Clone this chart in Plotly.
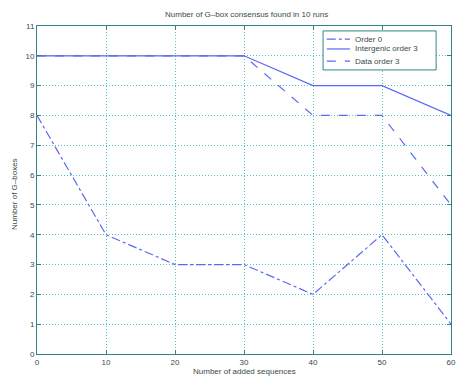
import plotly.graph_objects as go

added = [0, 10, 20, 30, 40, 50, 60]
order0 = [8, 4, 3, 3, 2, 4, 1]
intergenic3 = [10, 10, 10, 10, 9, 9, 8]
data3 = [10, 10, 10, 10, 8, 8, 5]
series_names = ["Order 0", "Intergenic order 3", "Data order 3"]
x_ticks = [0, 10, 20, 30, 40, 50, 60]
y_ticks = list(range(0, 12))

line_col = "#5a68f2"
axis_col = "#2f8585"
grid_col = "#4cc4c4"
text_col = "#3a4a4a"
dashes = ["dashdot", "solid", "dash"]

fig = go.Figure()
for name, vals, d in zip(series_names, [order0, intergenic3, data3], dashes):
    fig.add_trace(go.Scatter(x=added, y=vals, mode="lines", name=name,
                             line=dict(color=line_col, width=1.2, dash=d)))

# compact MATLAB-style legend drawn in plot-area (paper) coordinates
fig.add_shape(type="rect", xref="paper", yref="paper", x0=0.691, x1=0.964, y0=0.866, y1=0.985,
              line=dict(color=axis_col, width=1), fillcolor="white", layer="above")
leg_y = [0.960, 0.930, 0.893]
for name, d, yy in zip(series_names, dashes, leg_y):
    fig.add_shape(type="line", xref="paper", yref="paper", x0=0.700, x1=0.756, y0=yy, y1=yy,
                  line=dict(color=line_col, width=1.2, dash=d), layer="above")
    fig.add_annotation(text=name, xref="paper", yref="paper", x=0.763, y=yy,
                       xanchor="left", yanchor="middle", showarrow=False,
                       font=dict(size=8, color=text_col))

fig.add_annotation(text="Number of G\u2013box consensus found in 10 runs", xref="paper", yref="paper",
                   x=0.507, y=1.034, xanchor="center", yanchor="middle", showarrow=False,
                   font=dict(size=8, color=text_col))
fig.add_annotation(text="Number of added sequences", xref="paper", yref="paper",
                   x=0.5, y=-0.052, xanchor="center", yanchor="middle", showarrow=False,
                   font=dict(size=8, color=text_col))
fig.add_annotation(text="Number of G\u2013boxes", xref="paper", yref="paper",
                   x=-0.053, y=0.488, xanchor="center", yanchor="middle", showarrow=False,
                   textangle=-90, font=dict(size=8, color=text_col))

axis_common = dict(showgrid=True, gridcolor=grid_col, griddash="1px,2px", gridwidth=1,
                   showline=True, linecolor=axis_col, linewidth=1, mirror="allticks",
                   ticks="inside", ticklen=4, tickcolor=axis_col, zeroline=False,
                   tickfont=dict(size=8, color=text_col), automargin=False,
                   ticklabeloverflow="allow")

fig.update_layout(
    width=456, height=376,
    margin=dict(l=37, r=5, t=26, b=22),
    paper_bgcolor="white", plot_bgcolor="white",
    font=dict(family="Liberation Sans, Arial", size=8, color=text_col),
    showlegend=False,
    xaxis=dict(range=[0, 60], tickvals=x_ticks, **axis_common),
    yaxis=dict(range=[0, 11], tickvals=y_ticks, **axis_common),
)

# remove the default 8px page margin so the figure sits at the window's top-left corner
fig.write_html("out.html", config={"displayModeBar": False},
               post_script="document.body.style.margin='0';document.body.style.overflow='hidden';")
